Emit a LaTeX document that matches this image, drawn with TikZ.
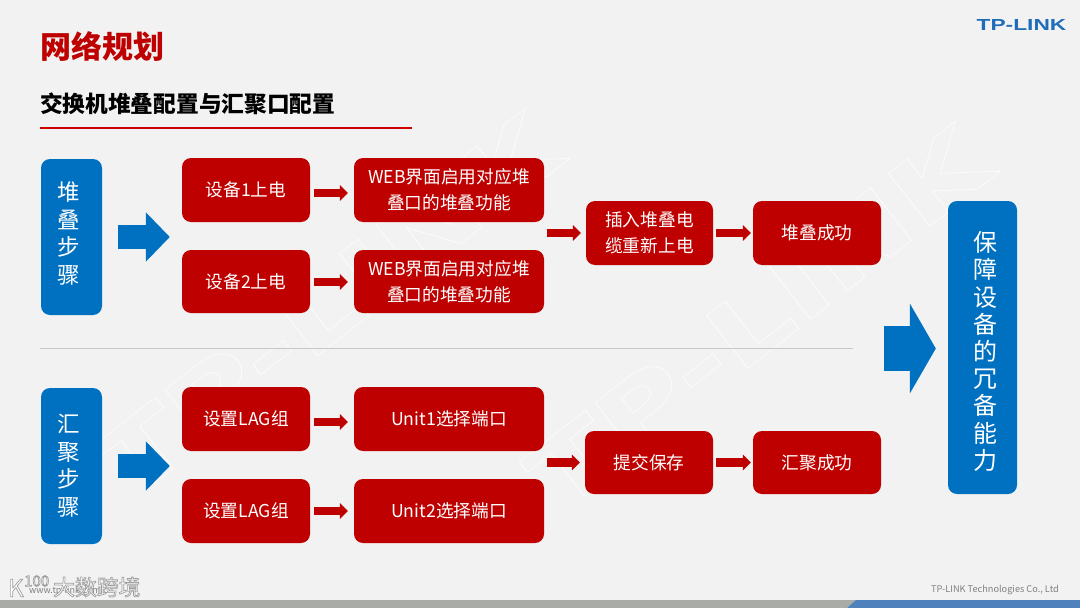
\documentclass[tikz,border=0pt]{standalone}
\usepackage{fontspec}
\setmainfont{Noto Sans CJK SC}
\newfontfamily\markfont{DejaVu Sans}[BoldFont={DejaVu Sans Bold}]
\newfontfamily\logofont{Liberation Sans}
\usetikzlibrary{arrows.meta}
\definecolor{pagebg}{HTML}{F2F2F2}
\definecolor{tpred}{HTML}{BE0000}
\definecolor{tpblue}{HTML}{0070C0}
\definecolor{logoblue}{HTML}{1F6DB8}
\definecolor{barblue}{HTML}{4F81BD}
\definecolor{bargray}{HTML}{A9ABA6}
\tikzset{
  x=1pt,y=-1pt,
  redbox/.style={draw=none,fill=tpred,rounded corners=9pt,text=white,font=\fontsize{17.7}{26}\selectfont,align=center,inner sep=0pt},
  sidebox/.style={draw=none,fill=tpblue,rounded corners=9pt,inner sep=0pt},
  sidetext/.style={text=white,align=center,inner sep=0pt},
  flow/.style={draw=tpred,line width=8.5pt,-{Triangle[length=8pt,width=15.5pt]},shorten <=4pt,shorten >=6pt},
  bigflow/.style={draw=tpblue,line width=24pt,-{Triangle[length=24pt,width=48pt]}},
  hugeflow/.style={draw=tpblue,line width=45pt,-{Triangle[length=26pt,width=89pt]}},
  watermark/.style={text=white,inner sep=0pt,font=\markfont\bfseries\fontsize{92}{92}\selectfont,rotate=38,xscale=1.36,transform shape},
}
\newcommand{\boxat}[6][redbox]{\node[#1,minimum width=#4-#3,minimum height=#6-#5] (#2) at ({(#3+#4)/2},{(#5+#6)/2})}
\newcommand{\outlined}[1]{\special{pdf:code q 1 Tr 0.7 w 0.985 0.985 0.985 RG}#1\special{pdf:code Q}}
\newcommand{\shadowed}[1]{\special{pdf:code q 2 Tr 0.7 w 0.62 0.62 0.62 RG}#1\special{pdf:code Q}}
\begin{document}
\begin{tikzpicture}
\useasboundingbox (0,0) rectangle (1080,608);
\fill[pagebg] (0,0) rectangle (1080,608);
% page watermarks
\node[watermark] (markA) at (328,305) {\outlined{TP-LINK}};
\node[watermark] (markB) at (758,318) {\outlined{TP-LINK}};
% footer bar
\fill[bargray] (0,600) -- (856,600) -- (847,608) -- (0,608) -- cycle;
\fill[barblue] (847,608) -- (856,600) -- (1080,600) -- (1080,608) -- cycle;
% headings
\node[anchor=west,inner sep=0pt,text=tpred,font=\bfseries\fontsize{31}{31}\selectfont] (title) at (40,47) {网络规划};
\node[anchor=west,inner sep=0pt,text=black,font=\bfseries\fontsize{22.7}{25}\selectfont] (subtitle) at (40,104) {交换机堆叠配置与汇聚口配置};
\coordinate (ruleL) at (40,128); \coordinate (ruleR) at (412,128);
\draw[red!80!black,line width=1.1pt] (ruleL) -- (ruleR);
\coordinate (sepL) at (40,348.5); \coordinate (sepR) at (853,348.5);
\draw[black!22,line width=.8pt] (sepL) -- (sepR);
\node[inner sep=0pt,text=logoblue,font=\logofont\bfseries\fontsize{16}{16}\selectfont,xscale=1.42,transform shape] (logo) at (1021.5,25) {TP-LINK};
\node[anchor=east,inner sep=0pt,text=black!50,font=\fontsize{9.2}{10}\selectfont] (footer) at (1059,590) {TP-LINK Technologies Co., Ltd};
% stamp bottom left
\node[anchor=west,inner sep=0pt,text=black!50,font=\fontsize{9}{9}\selectfont] (site) at (29,591) {www.tp-link.com.cn};
\node[anchor=west,inner sep=0pt,text=white,font=\fontsize{21.8}{22}\selectfont] (stampname) at (53,587) {\shadowed{大数跨境}};
\node[anchor=west,inner sep=0pt,text=white,font=\fontsize{24}{24}\selectfont] (stamplogo) at (8,588) {\shadowed{K}};
\node[anchor=west,inner sep=0pt,text=white,font=\fontsize{15}{15}\selectfont] (stamp100) at (24,581) {\shadowed{100}};
% boxes
\boxat[sidebox]{side1}{41}{102}{159}{315} {};
\boxat[sidebox]{side2}{41}{102}{388}{544} {};
\boxat[sidebox]{goal}{948}{1017}{201}{494} {};
\node[sidetext,font=\fontsize{22.5}{27.6}\selectfont] (side1text) at (69,233.5) {堆\\叠\\步\\骤};
\node[sidetext,font=\fontsize{22.5}{27.6}\selectfont] (side2text) at (69,465.5) {汇\\聚\\步\\骤};
\node[sidetext,font=\fontsize{24}{27.2}\selectfont] (goaltext) at (985.5,351.5) {保\\障\\设\\备\\的\\冗\\备\\能\\力};
\boxat{dev1}{182}{310}{158}{222} {设备1上电};
\boxat{dev2}{182}{310}{250}{313} {设备2上电};
\boxat{web1}{354}{544}{158}{222} {WEB界面启用对应堆\\叠口的堆叠功能};
\boxat{web2}{354}{544}{250}{313} {WEB界面启用对应堆\\叠口的堆叠功能};
\boxat{plug}{586}{713}{201}{265} {插入堆叠电\\缆重新上电};
\boxat{okstack}{753}{881}{201}{265} {堆叠成功};
\boxat{lag1}{182}{310}{387}{451} {设置LAG组};
\boxat{lag2}{182}{310}{479}{543} {设置LAG组};
\boxat{unit1}{354}{544}{387}{451} {Unit1选择端口};
\boxat{unit2}{354}{544}{479}{543} {Unit2选择端口};
\boxat{save}{585}{713}{431}{494} {提交保存};
\boxat{oklag}{753}{881}{431}{494} {汇聚成功};
% connectors
\draw[flow] ([yshift=-3pt]dev1.east) -- ([yshift=-3pt]web1.west);
\draw[flow] ([yshift=-.5pt]dev2.east) -- ([yshift=-.5pt]web2.west);
\draw[flow] ([yshift=-3pt]lag1.east) -- ([yshift=-3pt]unit1.west);
\draw[flow] (lag2.east) -- (unit2.west);
\draw[flow,shorten <=3pt,shorten >=5pt] (web1.east |- plug.west) -- (plug.west);
\draw[flow,shorten <=3pt,shorten >=5pt] (unit1.east |- save.west) -- (save.west);
\draw[flow,shorten <=3pt,shorten >=2pt] (plug.east) -- (okstack.west);
\draw[flow,shorten <=3pt,shorten >=2pt] (save.east) -- (oklag.west);
\draw[bigflow,shorten <=16pt,shorten >=12pt] (side1.east) -- (dev1.west |- side1.east);
\draw[bigflow,shorten <=16pt,shorten >=12pt] (side2.east) -- (lag1.west |- side2.east);
\coordinate (joinstart) at (884,348.5);
\draw[hugeflow,shorten >=12pt] (joinstart) -- (goal.west |- joinstart);
\end{tikzpicture}
\end{document}
